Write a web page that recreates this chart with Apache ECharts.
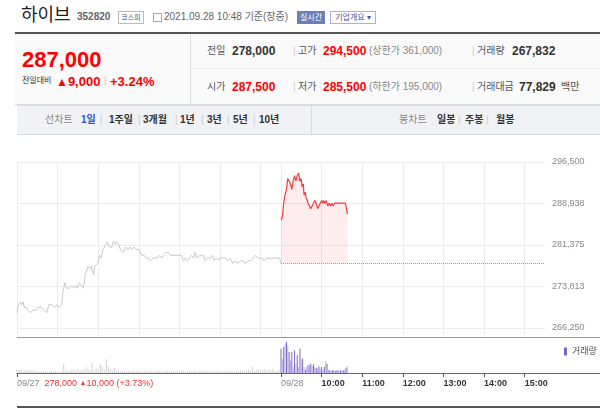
<!DOCTYPE html>
<html>
<head>
<meta charset="utf-8">
<script src="https://cdn.jsdelivr.net/npm/echarts@6/dist/echarts.min.js"></script>
<style>
body { margin: 0; width: 600px; height: 408px; position: relative; overflow: hidden; background: #fff;
  font-family: "Liberation Sans", "Noto Sans CJK KR", sans-serif; }
.a { position: absolute; white-space: nowrap; line-height: 1; }
.row { position: absolute; height: 16px; line-height: 16px; }
.row span { position: absolute; white-space: nowrap; }
.lb { font-size: 10px; color: #555; }
.vl { font-size: 12px; font-weight: bold; color: #333; }
.up { color: #f00; }
.sub { font-size: 10px; color: #888; }
.sep { font-size: 10px; color: #ccc; }
.tab { position: absolute; top: 0; font-size: 10px; font-weight: bold; color: #333; }
.tab.g { color: #888; font-weight: normal; }
.tab.on { color: #2d58b8; }
.tab.s { color: #ccc; font-weight: normal; }
#chart { position: absolute; left: 0; top: 0; width: 600px; height: 408px; z-index: 2; }
</style>
</head>
<body>
<!-- 상단 종목명 -->
<div class="a" style="left:21px;top:6px;font-size:18px;color:#222;">하이브</div>
<div class="a" style="left:77px;top:12px;font-size:10px;font-weight:bold;color:#666;">352820</div>
<div class="a" style="left:118px;top:11px;width:24px;height:11px;border:1px solid #bbb;font-size:7px;line-height:11px;text-align:center;color:#555;">코스피</div>
<div class="a" style="left:153px;top:13px;width:7px;height:7px;border:1px solid #aaa;"></div>
<div class="a" style="left:164px;top:12px;font-size:10px;color:#666;">2021.09.28 10:48 기준(장중)</div>
<div class="a" style="left:297px;top:11px;width:28px;height:13px;background:#6d80b5;color:#fff;font-size:8px;line-height:13px;text-align:center;">실시간</div>
<div class="a" style="left:330px;top:11px;width:44px;height:11px;border:1px solid #aab4d0;color:#4b5a94;font-size:8px;line-height:11px;text-align:center;">기업개요 ▾</div>
<div class="a" style="left:15px;top:32px;width:585px;height:2px;background:#555;"></div>

<!-- 시세 요약 -->
<div class="a" style="left:15px;top:34px;width:585px;height:70px;background:#fafafa;"></div>
<div class="a" style="left:190px;top:34px;width:1px;height:70px;background:#ddd;"></div>
<div class="a" style="left:191px;top:68px;width:409px;height:1px;background:#eee;"></div>
<div class="a" style="left:15px;top:104px;width:585px;height:1px;background:#ddd;"></div>
<div class="a up" style="left:22px;top:49px;font-size:22px;font-weight:bold;">287,000</div>
<div class="a" style="left:22px;top:77px;font-size:8px;color:#333;">전일대비</div>
<div class="a up" style="left:56px;top:75px;font-size:13px;font-weight:bold;"><span style="font-size:12px;">▲</span>9,000</div>
<div class="a" style="left:104px;top:76px;font-size:10px;color:#ccc;">|</div>
<div class="a up" style="left:110px;top:75px;font-size:13px;font-weight:bold;">+3.24%</div>

<div class="row" style="left:0;top:43px;width:600px;">
  <span class="lb" style="left:207px;">전일</span><span class="vl" style="left:232px;">278,000</span>
  <span class="sep" style="left:293px;">|</span>
  <span class="lb" style="left:298px;">고가</span><span class="vl up" style="left:323px;">294,500</span><span class="sub" style="left:369px;">(상한가 361,000)</span>
  <span class="sep" style="left:472px;">|</span>
  <span class="lb" style="left:477px;">거래량</span><span class="vl" style="left:512px;">267,832</span>
</div>
<div class="row" style="left:0;top:79px;width:600px;">
  <span class="lb" style="left:207px;">시가</span><span class="vl up" style="left:232px;">287,500</span>
  <span class="sep" style="left:293px;">|</span>
  <span class="lb" style="left:298px;">저가</span><span class="vl up" style="left:323px;">285,500</span><span class="sub" style="left:369px;">(하한가 195,000)</span>
  <span class="sep" style="left:472px;">|</span>
  <span class="lb" style="left:477px;">거래대금</span><span class="vl" style="left:519px;">77,829</span><span class="lb" style="left:561px;">백만</span>
</div>

<!-- 탭 -->
<div class="a" style="left:17px;top:105px;width:583px;height:28px;background:#f1f2f6;border-top:1px solid #d9dbe3;border-bottom:1px solid #d9dbe3;line-height:28px;">
  <span class="tab g" style="left:28px;">선차트</span>
  <span class="tab on" style="left:64px;">1일</span>
  <span class="tab s" style="left:83px;">|</span>
  <span class="tab" style="left:92px;">1주일</span>
  <span class="tab s" style="left:121px;">|</span>
  <span class="tab" style="left:126px;">3개월</span>
  <span class="tab s" style="left:158px;">|</span>
  <span class="tab" style="left:163px;">1년</span>
  <span class="tab s" style="left:184px;">|</span>
  <span class="tab" style="left:190px;">3년</span>
  <span class="tab s" style="left:210px;">|</span>
  <span class="tab" style="left:216px;">5년</span>
  <span class="tab s" style="left:236px;">|</span>
  <span class="tab" style="left:242px;">10년</span>
  <span class="a" style="left:294px;top:0;width:1px;height:28px;background:#d9dbe3;"></span>
  <span class="tab g" style="left:382px;">봉차트</span>
  <span class="tab" style="left:420px;">일봉</span>
  <span class="tab s" style="left:441px;">|</span>
  <span class="tab" style="left:448px;">주봉</span>
  <span class="tab s" style="left:469px;">|</span>
  <span class="tab" style="left:479px;">월봉</span>
</div>

<div class="a" style="left:17px;top:406px;width:583px;height:2px;background:#555;"></div>
<div id="chart"></div>

<script>
// 전일(09/27) 분 단위 시각 (09:00 기준 경과 분)과 가격
var prevMinutes = [0, 2, 5, 7, 9, 11, 14, 16, 20, 23, 28, 31, 36, 40, 44, 47, 52, 56, 59, 62,
  66, 68, 71, 73, 77, 81, 84, 87, 89, 92, 95, 98, 101, 105, 108, 110, 113, 115, 119, 122,
  124, 127, 131, 133, 136, 140, 142, 145, 147, 150, 153, 157, 161, 164, 167, 169, 173, 177, 181, 184,
  188, 191, 194, 197, 201, 204, 207, 210, 214, 216, 220, 224, 227, 231, 243, 246, 248, 251, 255, 258,
  261, 263, 266, 270, 275, 278, 281, 283, 286, 289, 291, 294, 298, 300, 304, 308, 311, 315, 319, 323,
  326, 330, 334, 337, 341, 345, 349, 352, 356, 359, 362, 365, 369, 373, 377, 384, 388, 390];
var prevPrices = [269000, 270500, 271000, 270500, 271000, 270000, 270000, 269500, 269000, 269500,
  269500, 270000, 270000, 269500, 269000, 270500, 270500, 270000, 270500, 270000,
  270500, 273000, 274500, 273500, 273500, 274000, 273500, 274000, 273500, 274500,
  274000, 273500, 276000, 277500, 277000, 277500, 276000, 277500, 278000, 279500,
  279000, 280500, 281500, 282000, 281000, 281000, 282000, 281500, 282000, 281500,
  280500, 280000, 281000, 280500, 281000, 280500, 281000, 280500, 280500, 279500,
  279500, 279000, 279000, 278500, 279000, 279000, 279000, 279500, 279000, 279500,
  280000, 280000, 279500, 279500, 279500, 278500, 279000, 278500, 279000, 279500,
  279000, 280000, 279000, 279500, 279500, 278500, 279000, 279000, 279000, 279500,
  278500, 279000, 278500, 279000, 279000, 279000, 278500, 279000, 278000, 278500,
  278000, 278500, 278500, 278000, 278500, 278500, 279000, 279500, 279000, 279000,
  279000, 278500, 279000, 279000, 279000, 279000, 279000, 278000];

// 당일(09/28)
var todayMinutes = [0, 2, 4, 6, 8, 10, 12, 14, 16, 18, 20, 22, 24, 26, 28, 30,
  31, 33, 34, 36, 37, 39, 40, 42, 44, 46, 48, 50, 52, 54, 56, 58, 60, 62,
  63, 65, 67, 69, 71, 73, 75, 77, 79, 95, 96, 98];
var todayPrices = [286000, 286500, 289000, 290500, 291500, 293500, 293500, 292500, 291500, 293000,
  294000, 293000, 294000, 294500, 293000, 293500,
  292000, 292500, 290500, 291000, 290000, 289500, 289000, 288500, 288000, 288000, 289000, 289500,
  289000, 288000, 288500, 289000, 289500, 289000,
  289500, 289000, 289500, 288500, 289000, 288500, 289000, 288500, 289000, 289000, 288500, 287000];

// 거래량: 전일 3분 단위, 당일 2분 단위
var prevVolume = [1400, 1200, 1600, 1000, 1200, 800, 1400, 1000, 1200,
  600, 800, 500, 700, 600, 800, 500, 600, 700, 500, 800, 600, 500, 700,
  3700, 1200, 800, 1000, 1400, 1200,
  1000, 1600, 800, 1200, 1400, 2400, 1600, 1000, 4000, 1200, 2000, 1400, 3600, 2400, 1200, 5600, 2400, 1600, 1000, 2000,
  800, 1000, 600, 900, 700, 1000, 800, 600, 900, 700,
  1000, 800, 700, 600, 900, 800, 700, 1000, 600, 800,
  700, 900, 800, 600, 700, 1000, 800, 700, 900, 600,
  800, 700, 900, 1000, 800, 600, 700, 800, 900, 700,
  600, 800, 1000, 700, 900, 800, 600, 700, 800, 900,
  1000, 700, 800, 600, 900, 700, 800, 1000, 700, 800,
  900, 1200, 1000, 800, 1200, 1400, 1000,
  2400, 1000, 1400, 1600, 1200, 1400, 1600, 1000, 1400, 1200, 1600, 800, 1000, 1200];
var todayVolume = [9700, 5700, 10400, 11700, 12400, 11100, 8400, 5100, 8400, 2400,
  9100, 3700, 7100, 2400, 9700, 5700, 5700, 2400, 1300, 2400,
  3100, 3300, 3700, 2700, 3500, 2400, 2100, 1700, 2700, 1700,
  2400, 1300, 2400, 4700, 3700, 1300, 1100, 800, 1100, 1300,
  800, 1100, 1100, 800, 1100, 800, 1100, 1300, 2100, 2700];

var prevClose = 278000;
var yTicks = [266250, 273812.5, 281375, 288937.5, 296500];
var gridTimes = [0, 60, 120, 180, 240, 300, 360, 390, 450, 510, 570, 630, 690, 750];
var axisTimes = [0, 390, 450, 510, 570, 630, 690, 750];
var axisLabels = ['09/27', '09/28', '10:00', '11:00', '12:00', '13:00', '14:00', '15:00'];
var prevSummary = ['278,000 ', '▲', '10,000 (+3.73%)'];

var dayLen = 390;
var totalLen = 780;

var prevLine = prevMinutes.map(function (m, i) { return [m, prevPrices[i]]; });
var todayLine = todayMinutes.map(function (m, i) { return [dayLen + m, todayPrices[i]]; });
var volData = prevVolume.map(function (v, i) { return [i * 3, v]; })
  .concat(todayVolume.map(function (v, i) { return [dayLen + i * 2, v]; }));

// 가장 아래 눈금선이 테두리보다 9px 위에 있도록 y 최소값 조정
var ySpan = yTicks[yTicks.length - 1] - yTicks[0];
var yMin = yTicks[0] - ySpan * 9 / 166;

var chart = echarts.init(document.getElementById('chart'));
chart.setOption({
  animation: false,
  backgroundColor: 'transparent',
  textStyle: { fontFamily: '"Liberation Sans", "Noto Sans CJK KR", sans-serif' },
  legend: {
    left: 559,
    top: 342,
    itemWidth: 3,
    itemHeight: 8,
    selectedMode: false,
    textStyle: { fontSize: 9, color: '#555' },
    data: [{ name: '거래량', icon: 'rect', itemStyle: { color: '#7b68c6' } }]
  },
  grid: [
    { left: 17, right: 55, top: 162, height: 175 },
    { left: 17, right: 0, top: 337, height: 36 }
  ],
  xAxis: [
    {
      gridIndex: 0,
      type: 'value',
      min: 0,
      max: totalLen,
      axisLine: { show: false },
      axisLabel: { show: false },
      axisTick: { show: false, customValues: gridTimes },
      splitLine: { show: true, lineStyle: { color: '#ececec' } }
    },
    {
      gridIndex: 1,
      type: 'value',
      position: 'bottom',
      min: 0,
      max: totalLen * 583 / 528,
      splitLine: { show: false },
      axisLine: { lineStyle: { color: '#666' } },
      axisTick: { show: true, length: 4, customValues: axisTimes, lineStyle: { color: '#555' } },
      axisLabel: {
        customValues: axisTimes,
        align: 'left',
        margin: 6,
        fontSize: 9,
        formatter: function (v) {
          var i = axisTimes.indexOf(v);
          if (i === 0) {
            return '{g|' + axisLabels[0] + '}  {r|' + prevSummary[0] + '}{t|' + prevSummary[1] + '}{r|' + prevSummary[2] + '}';
          }
          if (i === 1) return '{g|' + axisLabels[1] + '}';
          return '{d|' + axisLabels[i] + '}';
        },
        rich: {
          g: { color: '#888', fontSize: 9 },
          r: { color: '#f03030', fontSize: 9 },
          t: { color: '#f03030', fontSize: 7 },
          d: { color: '#333', fontSize: 9, fontWeight: 'bold' }
        }
      }
    },
    {
      gridIndex: 1,
      type: 'value',
      position: 'top',
      min: 0,
      max: totalLen * 583 / 528,
      axisLine: { show: true, lineStyle: { color: '#9a9a9a' } },
      axisTick: { show: false },
      axisLabel: { show: false },
      splitLine: { show: false }
    }
  ],
  yAxis: [
    {
      gridIndex: 0,
      type: 'value',
      position: 'right',
      min: yMin,
      max: yTicks[yTicks.length - 1],
      axisLine: { show: false },
      axisTick: { show: false, customValues: yTicks },
      splitLine: { show: true, lineStyle: { color: '#ececec' } },
      axisLabel: {
        customValues: yTicks,
        margin: 7,
        fontSize: 9,
        color: '#888',
        formatter: function (v) { return Math.round(v).toLocaleString('en-US'); }
      }
    },
    {
      gridIndex: 1,
      type: 'value',
      min: 0,
      max: 14400,
      show: false
    }
  ],
  series: [
    {
      name: '09/27',
      type: 'line',
      xAxisIndex: 0,
      yAxisIndex: 0,
      data: prevLine,
      symbol: 'none',
      lineStyle: { color: '#c9c9cd', width: 1 },
      silent: true
    },
    {
      name: '09/28',
      type: 'line',
      xAxisIndex: 0,
      yAxisIndex: 0,
      data: todayLine,
      symbol: 'none',
      lineStyle: { color: '#f43b3b', width: 1.2 },
      areaStyle: { origin: prevClose, color: 'rgba(246, 120, 135, 0.2)' },
      markLine: {
        silent: true,
        symbol: 'none',
        label: { show: false },
        lineStyle: { color: '#999', type: 'dotted', width: 1 },
        data: [[{ coord: [dayLen, prevClose] }, { coord: [totalLen, prevClose] }]]
      }
    },
    {
      name: '거래량',
      type: 'bar',
      xAxisIndex: 1,
      yAxisIndex: 1,
      data: volData,
      barWidth: 1,
      itemStyle: {
        color: function (p) {
          if (p.value[0] < dayLen) return '#d3d3d7';
          return p.dataIndex % 2 ? '#b8ade4' : '#7b68c6';
        }
      },
      silent: true
    }
  ]
});
</script>
</body>
</html>
